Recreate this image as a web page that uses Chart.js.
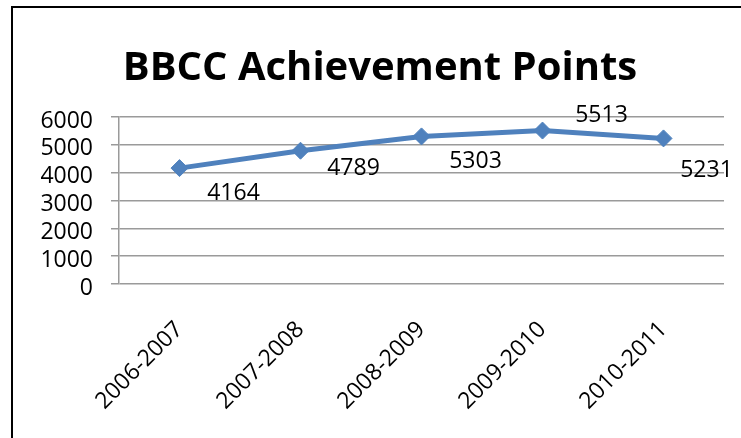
<!DOCTYPE html>
<html>
<head>
<meta charset="utf-8">
<script src="https://cdn.jsdelivr.net/npm/chart.js@4"></script>
<style>
  html, body { margin: 0; padding: 0; background: #fff; overflow: hidden; }
  #frame {
    position: absolute; left: 11px; top: 6px; width: 740px; height: 432px;
    border-top: 2px solid #000; border-left: 2px solid #000;
  }
  #chartBox { position: absolute; left: 0; top: 0; width: 734px; height: 430px; }
</style>
</head>
<body>
<div id="frame"><div id="chartBox"><canvas id="chart"></canvas></div></div>
<script>
// ---------- Data ----------
const seasons = ["2006-2007", "2007-2008", "2008-2009", "2009-2010", "2010-2011"];
const points  = [4164, 4789, 5303, 5513, 5231];
const yTicks  = [0, 1000, 2000, 3000, 4000, 5000, 6000];

const LINE_BLUE = "#4F81BD";
const FONT = "'Open Sans', 'DejaVu Sans', sans-serif";

// value labels, nudged the way they sit in the original
const valueLabels = {
  id: "valueLabels",
  afterDatasetsDraw(chart, args, opts) {
    const { ctx } = chart;
    const meta = chart.getDatasetMeta(0);
    ctx.save();
    ctx.font = `23px ${FONT}`;
    ctx.fillStyle = "#000";
    ctx.textAlign = "center";
    ctx.textBaseline = "middle";
    meta.data.forEach((pt, i) => {
      const [dx, dy] = opts.offsets[i] || [0, 0];
      ctx.fillText(String(points[i]), pt.x + dx, pt.y + dy);
    });
    ctx.restore();
  }
};

new Chart(document.getElementById("chart"), {
  type: "line",
  data: {
    labels: seasons,
    datasets: [{
      data: points,
      borderColor: LINE_BLUE,
      backgroundColor: LINE_BLUE,
      borderWidth: 5,
      pointStyle: "rectRot",
      pointRadius: 8.5,
      pointBorderWidth: 1,
      tension: 0
    }]
  },
  options: {
    responsive: true,
    maintainAspectRatio: false,
    animation: false,
    layout: { padding: 0 },
    plugins: {
      legend: { display: false },
      tooltip: { enabled: false },
      title: {
        display: true,
        text: "BBCC Achievement Points",
        color: "#000",
        font: { family: FONT, size: 40, weight: "bold" },
        padding: { top: 37, bottom: 24 }
      },
      valueLabels: { offsets: [[54, 25], [53, 18], [54, 25], [59, -15], [43, 32]] }
    },
    scales: {
      x: {
        offset: true,
        grid: { display: false, drawTicks: false },
        border: { display: false },
        ticks: {
          color: "#000",
          font: { family: FONT, size: 23 },
          maxRotation: 45, minRotation: 45,
          autoSkip: false,
          padding: 32
        },
        afterFit(scale) { scale.height = 154; }
      },
      y: {
        min: 0, max: 6000,
        afterBuildTicks(scale) { scale.ticks = yTicks.map(v => ({ value: v })); },
        grid: { color: "#9a9a9a", lineWidth: 1.5, tickLength: 8 },
        border: { color: "#9a9a9a", width: 1.5 },
        ticks: {
          color: "#000",
          font: { family: FONT, size: 23 },
          autoSkip: false,
          padding: 18,
          labelOffset: 4,
          callback: v => String(v)
        },
        afterFit(scale) { scale.width = 106; }
      },
      // empty right-hand margin so the title stays centred on the whole frame
      yRight: {
        position: "right",
        min: 0, max: 6000,
        grid: { display: false },
        border: { display: false },
        ticks: { display: false },
        afterFit(scale) { scale.width = 23; }
      }
    }
  },
  plugins: [valueLabels]
});
</script>
</body>
</html>
